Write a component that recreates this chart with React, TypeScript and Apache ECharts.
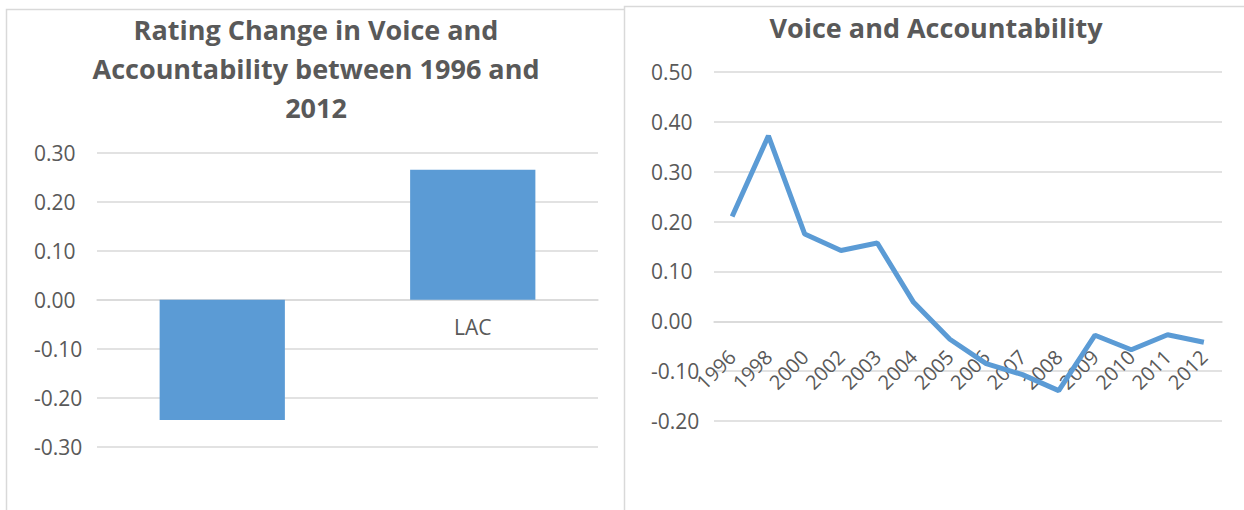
import React, { useEffect, useRef } from "react";
import * as echarts from "echarts";

const barCategories = ["", "LAC"];
const barValues = [-0.245, 0.265];

const yearCategories = ["1996", "1998", "2000", "2002", "2003", "2004", "2005", "2006", "2007", "2008", "2009", "2010", "2011", "2012"];
const voiceValues = [0.21, 0.372, 0.175, 0.142, 0.157, 0.038, -0.036, -0.085, -0.107, -0.139, -0.028, -0.057, -0.027, -0.042];

const leftTitle = "Rating Change in Voice and\nAccountability between 1996 and\n2012";
const rightTitle = "Voice and Accountability";

const FONT = "Open Sans";
const LABEL = "#595959";
const GRID = "#D9D9D9";
const BLUE = "#5B9BD5";

const fmt = (v: number) => (Math.round(v * 100) / 100).toFixed(2);

export default function App() {
  const ref = useRef<HTMLDivElement>(null);
  useEffect(() => {
    if (!ref.current) return;
    const chart = echarts.init(ref.current, undefined, { renderer: "svg" });
    const yCommon = {
      type: "value" as const,
      axisLine: { show: false },
      axisTick: { show: false },
      splitLine: { lineStyle: { color: GRID, width: 1.5 } },
      axisLabel: { color: LABEL, fontSize: 21, fontFamily: FONT, align: "left" as const, margin: 63, formatter: fmt },
    };
    chart.setOption({
      animation: false,
      backgroundColor: "#ffffff",
      title: [
        {
          text: leftTitle,
          left: 316,
          top: 10,
          textAlign: "center",
          padding: 0,
          textStyle: { fontSize: 27, fontWeight: "bold", color: LABEL, fontFamily: FONT, lineHeight: 39 },
        },
        {
          text: rightTitle,
          left: 936,
          top: 8,
          textAlign: "center",
          padding: 0,
          textStyle: { fontSize: 27, fontWeight: "bold", color: LABEL, fontFamily: FONT, lineHeight: 39 },
        },
      ],
      graphic: {
        elements: [
          {
            type: "polyline",
            z: -10,
            silent: true,
            shape: { points: [[6.5, 520], [6.5, 9.5], [624, 9.5]] },
            style: { stroke: GRID, fill: "none", lineWidth: 1.5 },
          },
          {
            type: "polyline",
            z: -10,
            silent: true,
            shape: { points: [[624.5, 520], [624.5, 6.5], [1250, 6.5]] },
            style: { stroke: GRID, fill: "none", lineWidth: 1.5 },
          },
        ],
      },
      grid: [
        { left: 97, top: 152.7, width: 501, height: 294.3 },
        { left: 714, top: 72, width: 508, height: 349 },
      ],
      xAxis: [
        {
          type: "category",
          gridIndex: 0,
          data: barCategories,
          position: "bottom",
          offset: -147.15,
          axisLine: { show: true, onZero: false, lineStyle: { color: GRID, width: 1.5 } },
          axisTick: { show: false },
          axisLabel: { color: LABEL, fontSize: 21, fontFamily: FONT, margin: 17 },
        },
        {
          type: "category",
          gridIndex: 1,
          data: yearCategories,
          position: "bottom",
          offset: -99.7,
          axisLine: { show: true, onZero: false, lineStyle: { color: GRID, width: 1.5 } },
          axisTick: { show: false },
          axisLabel: { color: LABEL, fontSize: 20, fontFamily: FONT, margin: 32, rotate: 45, interval: 0 },
        },
      ],
      yAxis: [
        { ...yCommon, gridIndex: 0, min: -0.3, max: 0.3, interval: 0.1 },
        { ...yCommon, gridIndex: 1, min: -0.2, max: 0.5, interval: 0.1 },
      ],
      series: [
        {
          type: "bar",
          xAxisIndex: 0,
          yAxisIndex: 0,
          data: barValues,
          barWidth: "50%",
          itemStyle: { color: BLUE },
        },
        {
          type: "line",
          xAxisIndex: 1,
          yAxisIndex: 1,
          data: voiceValues,
          symbol: "none",
          z: 5,
          lineStyle: { color: BLUE, width: 5 },
        },
      ],
    });
    return () => chart.dispose();
  }, []);
  return <div ref={ref} style={{ position: "absolute", left: 0, top: 0, width: 1244, height: 510 }} />;
}
